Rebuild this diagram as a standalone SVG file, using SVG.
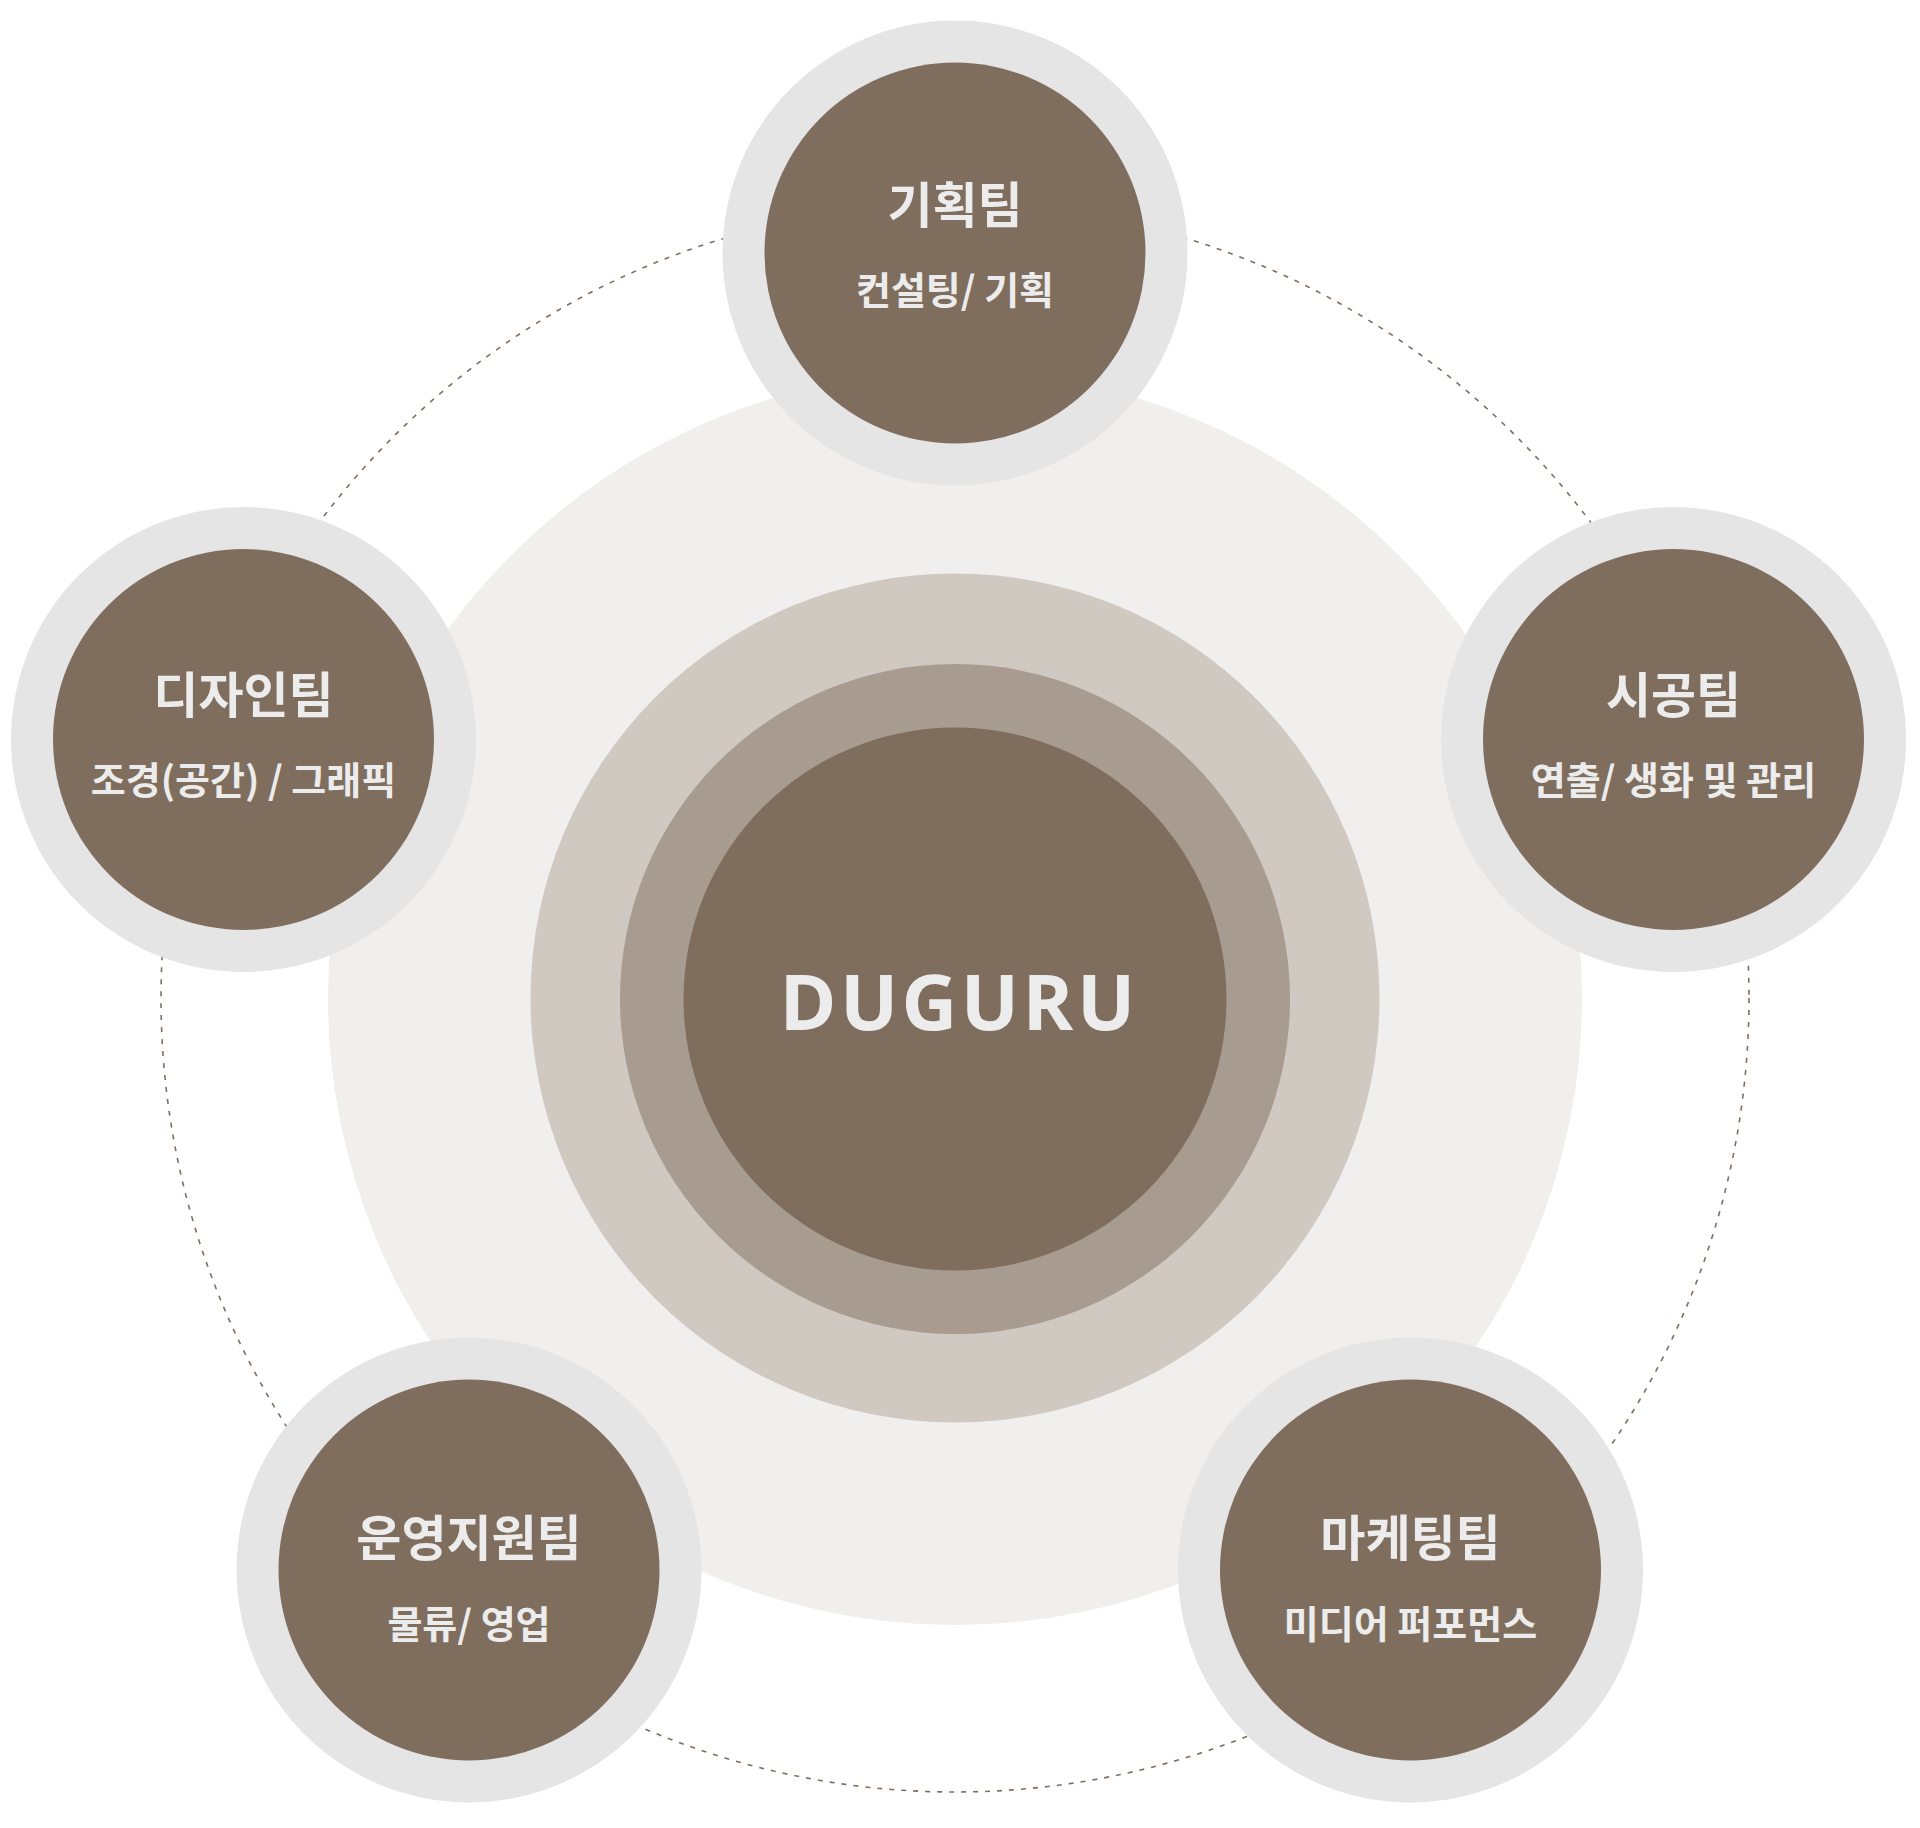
<svg xmlns="http://www.w3.org/2000/svg" width="1920" height="1828" viewBox="0 0 1920 1828">
<style>
.ring{fill:#e5e5e5}
.core{fill:#7f6e5e}
.t{font-family:"Noto Sans CJK KR","Noto Sans",sans-serif;font-weight:700;fill:#ececec;text-anchor:middle}
.title{font-size:49px}
.sub{font-size:38px}
</style>
<rect width="1920" height="1828" fill="#ffffff"/>
<g id="connectors">
<circle cx="955" cy="998" r="794" fill="none" stroke="#7f6e5e" stroke-width="1.6" stroke-dasharray="5 7"/>
</g>
<g id="center">
<circle cx="955" cy="998" r="627" fill="#f0efed"/>
<circle cx="955" cy="998" r="424.5" fill="#d0c9c2"/>
<circle cx="955" cy="999" r="335" fill="#a89c90"/>
<circle cx="955" cy="999" r="271.5" fill="#7f6e5e"/>
<text x="959" y="1030" font-family="Open Sans, sans-serif" font-weight="700" font-size="77" letter-spacing="3.5" fill="#ececec" text-anchor="middle">DUGURU</text>
</g>
<g id="node-planning">
<circle class="ring" cx="955" cy="253" r="232.5"/>
<circle class="core" cx="955" cy="253" r="190.5"/>
<text class="t title" x="955" y="223">기획팀</text>
<text class="t sub" x="955" y="304">컨설팅/ 기획</text>
</g>
<g id="node-design">
<circle class="ring" cx="243.5" cy="739.5" r="232.5"/>
<circle class="core" cx="243.5" cy="739.5" r="190.5"/>
<text class="t title" x="243.5" y="713">디자인팀</text>
<text class="t sub" x="243.5" y="794">조경(공간) / 그래픽</text>
</g>
<g id="node-construction">
<circle class="ring" cx="1673.5" cy="739.5" r="232.5"/>
<circle class="core" cx="1673.5" cy="739.5" r="190.5"/>
<text class="t title" x="1673.5" y="713">시공팀</text>
<text class="t sub" x="1673.5" y="794">연출/ 생화 및 관리</text>
</g>
<g id="node-operations">
<circle class="ring" cx="469" cy="1570" r="232.5"/>
<circle class="core" cx="469" cy="1570" r="190.5"/>
<text class="t title" x="469" y="1556">운영지원팀</text>
<text class="t sub" x="469" y="1638">물류/ 영업</text>
</g>
<g id="node-marketing">
<circle class="ring" cx="1410.5" cy="1570" r="232.5"/>
<circle class="core" cx="1410.5" cy="1570" r="190.5"/>
<text class="t title" x="1410.5" y="1556">마케팅팀</text>
<text class="t sub" x="1410.5" y="1638">미디어 퍼포먼스</text>
</g>
</svg>
